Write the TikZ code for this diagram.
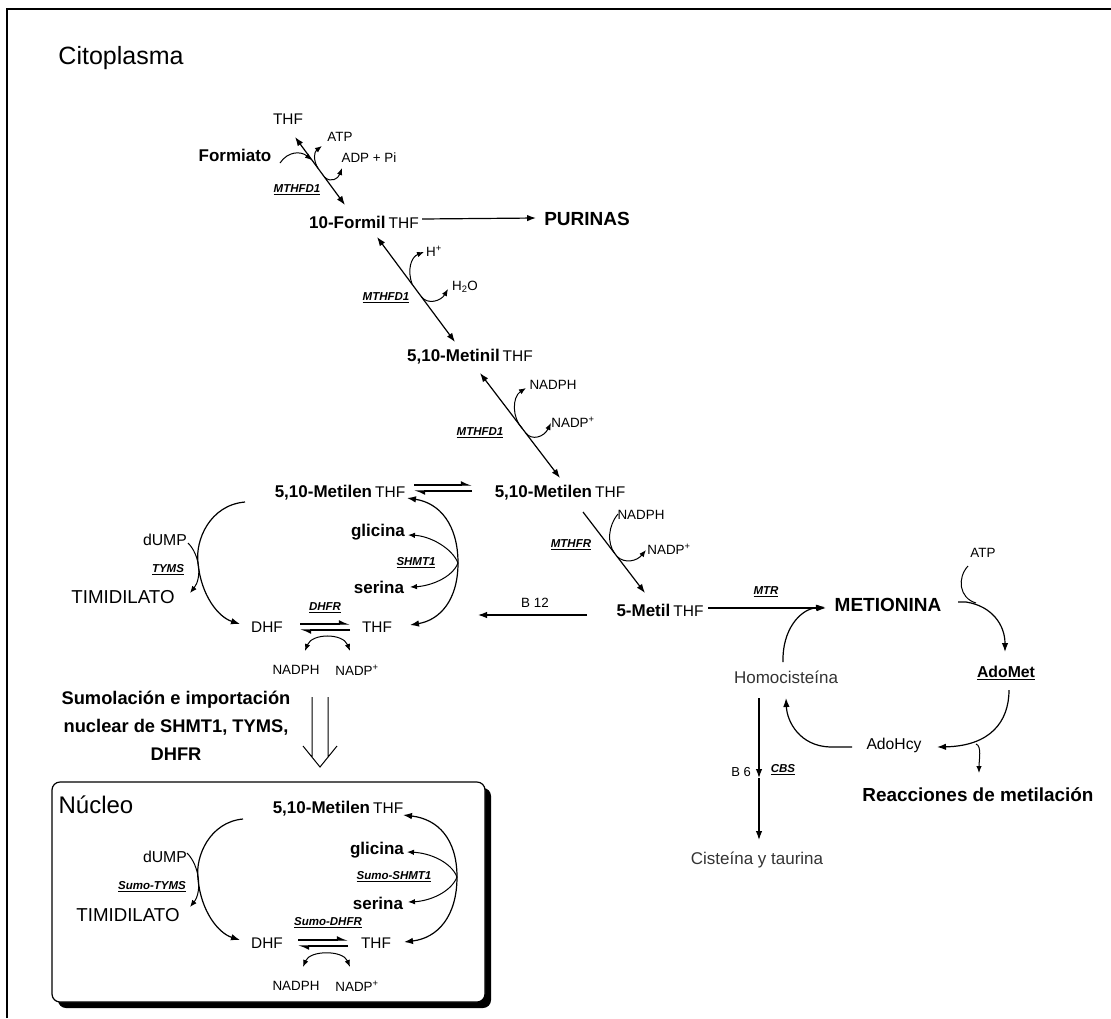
\documentclass[tikz,border=0pt]{standalone}
\usepackage{fontspec}
\setmainfont{Liberation Sans}
\usetikzlibrary{arrows.meta,calc}

\newcommand{\fs}[1]{\fontsize{#1}{#1}\selectfont}
\newcommand{\enz}[1]{\underline{#1}}
\newcommand{\thfsuf}[1]{#1\hspace{3pt}{\mdseries\fs{15.5}THF}}

\begin{document}
\begin{tikzpicture}[x=1pt,y=-1pt,
    every node/.style={inner sep=0pt},
    met/.style={font=\fs{17}\bfseries},
    plain/.style={font=\fs{15.4}},
    small/.style={font=\fs{13.4}},
    enzyme/.style={font=\fs{11.5}\bfseries\itshape},
    rx/.style={line width=1.2pt,-{Latex[length=9pt,width=6.5pt]}},
    rxb/.style={line width=1.2pt,{Latex[length=9pt,width=6.5pt]}-{Latex[length=9pt,width=6.5pt]}},
    side/.style={line width=1pt,-{Latex[length=7pt,width=5.5pt]}},
    sideb/.style={line width=1pt,{Latex[length=7pt,width=5.5pt]}-{Latex[length=7pt,width=5.5pt]}},
    harp/.style={line width=1.2pt,-{Latex[harpoon,length=9pt,width=8pt]}}]
\useasboundingbox (0,0) rectangle (1111,1018);
\draw[line width=2.5pt] (7,1018) -- (7,9) -- (1111,9);

\node[font=\fs{25}] (cito) at (121,58) {Citoplasma};

% formiato -> 10-formil
\node[plain] (thf0) at (288,119) {THF};
\node[small] (atp0) at (340,137) {ATP};
\node[met] (formiato) at (235,155) {Formiato};
\node[small] (adp) at (369,158) {ADP + Pi};
\node[enzyme] (e1) at (297,190) {\enz{MTHFD1}};
\node[met] (formil) at (364,222) {\thfsuf{10-Formil}};
\node[font=\fs{19}\bfseries] (purinas) at (587,219) {PURINAS};
\coordinate (f1) at (295,137);
\coordinate (f2) at (345,205);
\draw[rxb] (f1) -- coordinate[pos=.34] (fa) coordinate[pos=.46] (fb) coordinate[pos=.59] (fc) (f2);
\draw[side] (280,163) .. controls (288,151) and (301,151) .. (fa);
\draw[side] (fb) .. controls (313,160) and (314,152) .. (322,146);
\draw[side] (fc) .. controls (331,183) and (338,179) .. (342,168);
\draw[rx] ($(formil.east)+(3,-3)$) -- ($(purinas.west)+(-8,-1)$);

% 10-formil -> 5,10-metinil
\node[small] (hplus) at (434,251) {H\textsuperscript{+}};
\node[small] (water) at (465,287) {H\textsubscript{2}O};
\node[enzyme] (e2) at (386,298) {\enz{MTHFD1}};
\node[met] (metinil) at (470,357) {\thfsuf{5,10-Metinil}};
\coordinate (h1) at (377,237);
\coordinate (h2) at (455,342);
\draw[rxb] (h1) -- coordinate[pos=.45] (ha) coordinate[pos=.57] (hb) (h2);
\draw[side] (ha) .. controls (407,270) and (411,257) .. (424,252);
\draw[side] (hb) .. controls (428,305) and (441,301) .. (448,289);

% 5,10-metinil -> 5,10-metilen
\node[small] (nadph1) at (553,385) {NADPH};
\node[small] (nadp1) at (573,422) {NADP\textsuperscript{+}};
\node[enzyme] (e3) at (480,433) {\enz{MTHFD1}};
\node[met] (metilenR) at (560,493) {\thfsuf{5,10-Metilen}};
\coordinate (n1) at (480,373);
\coordinate (n2) at (560,478);
\draw[rxb] (n1) -- coordinate[pos=.53] (na) coordinate[pos=.57] (nb) (n2);
\draw[side] (na) .. controls (512,418) and (512,397) .. (526,388);
\draw[side] (nb) .. controls (532,441) and (544,437) .. (551,423);

% 5,10-metilen -> 5-metil
\node[small] (nadph2) at (641,515) {NADPH};
\node[small] (nadp2) at (669,549) {NADP\textsuperscript{+}};
\node[enzyme] (e4) at (571,545) {\enz{MTHFR}};
\node[met] (metil) at (660,610) {\thfsuf{5-Metil}};
\coordinate (r1) at (583,512);
\coordinate (r2) at (645,593);
\draw[rx] (r1) -- coordinate[pos=.51] (ra) coordinate[pos=.55] (rb) (r2);
\draw[line width=1pt] (618,514) .. controls (608,526) and (607,543) .. (ra);
\draw[side] (rb) .. controls (625,564) and (637,561) .. (646,550);

\node[small] (b12) at (535,603) {B 12};
\coordinate (b1) at (587,615);
\coordinate (b2) at (478,615);
\draw[rx] (b1) -- (b2);

% ciclo de la metionina
\node[enzyme] (mtr) at (766,592) {\enz{MTR}};
\node[font=\fs{19}\bfseries] (metionina) at (888,605) {METIONINA};
\node[small] (atp1) at (983,553) {ATP};
\node[font=\fs{15.8}\bfseries] (adomet) at (1006,673) {\enz{AdoMet}};
\node[font=\fs{15.7}] (adohcy) at (894,745) {AdoHcy};
\node[font=\fs{17},text=black!80] (homo) at (786,677) {Homociste\'ina};
\node[font=\fs{13}] (b6) at (741,772) {B 6};
\node[enzyme] (cbs) at (783,770) {\enz{CBS}};
\node[font=\fs{17},text=black!80] (cist) at (757,860) {Cisteína y taurina};
\node[font=\fs{18.9}\bfseries] (reacc) at (978,795) {Reacciones de metilación};
\coordinate (t1) at (708,608);
\coordinate (t2) at (826,608);
\draw[rx] (t1) -- (t2);
\draw[line width=1pt] (968,566) .. controls (957,578) and (959,598) .. (976,603);
\draw[rx] (958,602) -- (966,602) .. controls (992,606) and (1005,625) .. (1005,652);
\draw[rx] (1009,690) .. controls (1009,722) and (990,746) .. (937,747);
\draw[side] (976,744) .. controls (982,746) and (979,760) .. (979,773);
\draw[rx] (852,747) -- (830,747) .. controls (800,746) and (787,722) .. (786,698);
\draw[rx] (783,662) .. controls (782,630) and (800,609) .. (825,607);
\coordinate (c1) at (759,698);
\coordinate (c2) at (759,778);
\coordinate (c3) at (759,840);
\draw[rx] (c1) -- (c2);
\draw[rx] (c2) -- (c3);

% ciclo del timidilato (citoplasma)
\node[met] (metilenL) at (340,493) {\thfsuf{5,10-Metilen}};
\draw[harp] (414,485) -- (472,485);
\draw[harp] (472,491) -- (414,491);
\node[font=\fs{15.8}] (dump) at (165,540) {dUMP};
\node[enzyme] (tyms) at (168,570) {\enz{TYMS}};
\node[font=\fs{18.7}] (timid) at (123,597) {TIMIDILATO};
\node[plain] (dhf) at (267,627) {DHF};
\node[plain] (thf1) at (377,627) {THF};
\node[enzyme] (dhfr) at (325,608) {\enz{DHFR}};
\node[small] (nadph3) at (296,670) {NADPH};
\node[small] (nadp3) at (357,670) {NADP\textsuperscript{+}};
\node[met] (glicina) at (378,532) {glicina};
\node[enzyme] (shmt) at (416,563) {\enz{SHMT1}};
\node[met] (serina) at (379,587) {serina};
\draw[rx] (245,502) .. controls (210,505) and (195,540) .. (198,563) .. controls (201,595) and (218,617) .. (240,624);
\draw[side] (188,543) .. controls (200,555) and (202,578) .. (190,593);
\draw[harp] (300,624) -- (350,624);
\draw[harp] (350,630) -- (300,630);
\draw[sideb] (305,651) .. controls (312,633) and (343,633) .. (350,651);
\coordinate (s0) at (458,563);
\draw[rx] (s0) .. controls (458,525) and (440,503) .. (407,498);
\draw[rx] (s0) .. controls (458,600) and (440,620) .. (410,625);
\draw[side] (s0) .. controls (452,548) and (430,536) .. (408,535);
\draw[side] (s0) .. controls (452,578) and (430,586) .. (410,587);

% importacion nuclear
\node[font=\fontsize{18.3}{28}\selectfont\bfseries, align=center] (sumo) at (176,726)
  {Sumolación e importación\\nuclear de SHMT1, TYMS,\\DHFR};
\draw[line width=1pt] (312,697) -- (312,757) (328,697) -- (328,757)
  (303,746) -- (320,767) -- (337,746);

% nucleo
\fill[black, rounded corners=8] (58,788) rectangle (491,1008);
\draw[line width=1.2pt, fill=white, rounded corners=8] (52,782) rectangle (485,1002);
\node[font=\fs{24}] (nucleo) at (96,805) {Núcleo};
\begin{scope}[yshift=-316pt]
\node[met] (nmetilen) at (338,493) {\thfsuf{5,10-Metilen}};
\node[font=\fs{15.8}] (ndump) at (165,541) {dUMP};
\node[enzyme] (ntyms) at (152,571) {\enz{Sumo-TYMS}};
\node[font=\fs{18.7}] (ntimid) at (128,599) {TIMIDILATO};
\node[plain] (ndhf) at (267,627) {DHF};
\node[plain] (nthf) at (376,627) {THF};
\node[enzyme] (ndhfr) at (328,607) {\enz{Sumo-DHFR}};
\node[small] (nnadph) at (296,670) {NADPH};
\node[small] (nnadp) at (357,670) {NADP\textsuperscript{+}};
\node[met] (nglicina) at (377,534) {glicina};
\node[enzyme] (nshmt) at (394,561) {\enz{Sumo-SHMT1}};
\node[met] (nserina) at (378,587) {serina};
\draw[rx] (243,503) .. controls (210,506) and (195,540) .. (198,563) .. controls (201,595) and (218,617) .. (240,624);
\draw[side] (187,537) .. controls (200,550) and (202,576) .. (190,591);
\draw[harp] (298,624) -- (348,624);
\draw[harp] (348,630) -- (298,630);
\draw[sideb] (303,651) .. controls (310,634) and (343,634) .. (350,651);
\coordinate (n0) at (457,561);
\draw[rx] (n0) .. controls (457,523) and (438,503) .. (403,499);
\draw[rx] (n0) .. controls (457,600) and (438,622) .. (404,626);
\draw[side] (n0) .. controls (451,546) and (430,537) .. (407,536);
\draw[side] (n0) .. controls (451,576) and (430,585) .. (408,586);
\end{scope}
\end{tikzpicture}
\end{document}
